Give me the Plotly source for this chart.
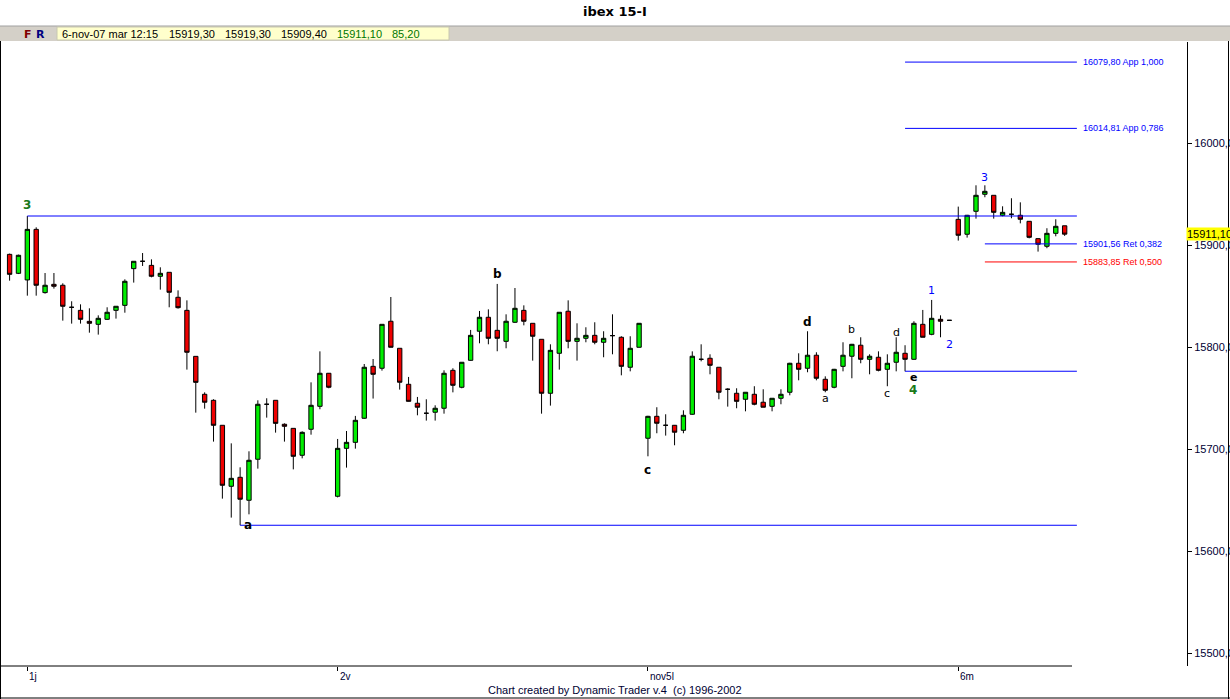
import plotly.graph_objects as go

# ---------------- data ----------------
opens = [15891.3, 15872.7, 15866.2, 15915.8, 15853.8, 15861.9, 15861.0, 15839.4, 15836.4, 15825.6,
         15822.7, 15827.6, 15836.4, 15841.3, 15877.3, 15884.5, 15880.5, 15869.8, 15873.7, 15849.2,
         15836.4, 15791.3, 15754.1, 15748.2, 15723.7, 15663.9, 15672.7, 15650.2, 15690.4, 15744.3,
         15748.2, 15724.7, 15720.7, 15694.3, 15719.8, 15742.3, 15774.7, 15654.1, 15701.1, 15707.0,
         15730.6, 15781.5, 15779.6, 15825.7, 15799.2, 15763.9, 15745.3, 15735.5, 15736.5, 15740.4,
         15777.6, 15761.0, 15787.4, 15815.9, 15829.6, 15816.8, 15806.0, 15824.7, 15836.4, 15823.7,
         15808.0, 15755.1, 15794.3, 15835.5, 15806.0, 15809.0, 15811.9, 15805.1, 15811.6, 15810.0,
         15780.6, 15800.2, 15711.0, 15732.5, 15723.7, 15723.7, 15718.8, 15734.5, 15788.4, 15789.4,
         15780.6, 15759.0, 15755.1, 15749.2, 15754.1, 15746.3, 15742.3, 15750.2, 15756.1, 15784.5,
         15779.6, 15792.4, 15768.8, 15761.0, 15781.5, 15791.4, 15802.2, 15788.4, 15790.4, 15778.6,
         15785.5, 15794.3, 15788.4, 15822.7, 15812.9, 15827.6, 15826.6, 15925.6, 15911.0, 15933.5,
         15950.2, 15949.2, 15929.6, 15930.6, 15929.6, 15923.7, 15906.7, 15899.2, 15911.9, 15919.3]
highs = [15892.0, 15891.0, 15928.9, 15917.8, 15873.0, 15873.0, 15862.9, 15845.3, 15842.3, 15838.4,
         15831.5, 15839.4, 15840.4, 15866.8, 15884.5, 15892.6, 15886.4, 15878.6, 15873.7, 15856.0,
         15846.2, 15791.3, 15756.0, 15749.2, 15723.7, 15706.0, 15682.5, 15698.2, 15748.2, 15750.2,
         15748.2, 15725.6, 15720.7, 15717.8, 15765.8, 15796.2, 15775.0, 15710.3, 15718.1, 15732.9,
         15783.8, 15788.7, 15822.7, 15849.5, 15799.2, 15771.1, 15751.5, 15749.2, 15743.3, 15777.6,
         15779.6, 15785.5, 15817.2, 15835.8, 15837.4, 15862.3, 15832.5, 15858.3, 15841.3, 15823.7,
         15808.0, 15803.1, 15834.5, 15846.2, 15823.7, 15819.8, 15824.7, 15815.9, 15832.5, 15811.0,
         15811.0, 15824.0, 15733.0, 15741.4, 15734.5, 15724.0, 15738.4, 15796.2, 15803.1, 15793.3,
         15780.6, 15760.0, 15760.0, 15756.1, 15762.0, 15759.0, 15750.2, 15759.0, 15785.0, 15794.3,
         15815.9, 15795.3, 15771.7, 15779.0, 15805.1, 15803.5, 15810.0, 15793.3, 15796.2, 15793.3,
         15810.0, 15802.2, 15825.7, 15836.8, 15846.6, 15831.5, 15826.6, 15938.1, 15930.0, 15959.0,
         15959.0, 15949.2, 15938.4, 15946.3, 15942.3, 15924.0, 15907.0, 15916.9, 15925.7, 15919.3]
lows = [15865.5, 15872.0, 15850.8, 15850.8, 15852.8, 15857.7, 15826.3, 15823.4, 15823.4, 15814.5,
        15812.6, 15827.0, 15828.3, 15834.1, 15863.6, 15879.9, 15868.8, 15856.7, 15839.4, 15838.1,
        15778.3, 15736.1, 15740.0, 15707.7, 15651.8, 15633.2, 15625.7, 15636.4, 15681.2, 15731.2,
        15716.5, 15707.7, 15680.5, 15691.3, 15714.5, 15739.4, 15760.0, 15653.0, 15682.2, 15700.8,
        15730.0, 15749.9, 15777.3, 15800.0, 15758.7, 15747.0, 15733.5, 15728.3, 15728.3, 15735.1,
        15756.0, 15760.0, 15787.0, 15804.1, 15803.1, 15796.3, 15799.2, 15824.0, 15821.7, 15787.1,
        15735.1, 15743.0, 15778.3, 15799.2, 15787.1, 15805.1, 15803.1, 15790.4, 15793.3, 15772.7,
        15776.6, 15800.0, 15693.3, 15715.9, 15713.6, 15704.1, 15715.9, 15734.0, 15786.4, 15773.7,
        15749.2, 15742.0, 15740.4, 15737.4, 15743.3, 15741.4, 15737.4, 15744.3, 15753.1, 15767.8,
        15775.7, 15767.8, 15756.1, 15760.0, 15776.6, 15769.8, 15784.5, 15773.7, 15776.6, 15762.0,
        15776.6, 15776.6, 15788.0, 15810.0, 15812.0, 15810.0, 15826.6, 15904.8, 15907.7, 15926.3,
        15947.3, 15926.3, 15928.6, 15926.7, 15921.7, 15907.0, 15894.0, 15897.3, 15909.0, 15909.4]
closes = [15871.7, 15890.4, 15915.8, 15861.0, 15861.0, 15860.0, 15840.4, 15839.4, 15827.6, 15823.7,
          15828.6, 15834.5, 15840.4, 15864.9, 15884.5, 15884.5, 15869.8, 15872.7, 15854.1, 15839.0,
          15795.3, 15765.8, 15746.3, 15723.7, 15664.9, 15671.7, 15651.2, 15689.4, 15744.3, 15744.3,
          15725.6, 15722.7, 15693.3, 15716.8, 15743.3, 15774.7, 15761.0, 15701.1, 15707.0, 15728.6,
          15780.6, 15773.7, 15822.7, 15800.2, 15765.9, 15747.2, 15741.4, 15735.5, 15740.4, 15774.7,
          15762.9, 15785.5, 15811.9, 15829.6, 15809.0, 15809.0, 15825.7, 15838.4, 15825.7, 15811.0,
          15755.1, 15797.2, 15834.5, 15806.0, 15809.0, 15811.9, 15805.1, 15809.0, 15811.6, 15781.5,
          15799.2, 15823.7, 15732.5, 15725.7, 15723.7, 15716.9, 15733.5, 15791.4, 15788.4, 15782.5,
          15756.1, 15759.0, 15747.2, 15756.1, 15744.3, 15741.4, 15750.2, 15754.1, 15784.5, 15778.6,
          15792.4, 15769.8, 15758.0, 15778.6, 15792.4, 15803.1, 15788.4, 15791.4, 15777.6, 15784.5,
          15795.3, 15788.4, 15823.7, 15810.0, 15828.6, 15825.7, 15826.6, 15910.0, 15929.6, 15949.2,
          15953.1, 15932.5, 15932.5, 15930.6, 15925.7, 15908.0, 15901.2, 15911.9, 15918.8, 15911.1]
bar_index = list(range(len(opens)))

day_tick_bars = [2, 37, 72, 107]
day_tick_labels = ["1j", "2v", "nov5l", "6m"]

y_tick_values = [15500, 15600, 15700, 15800, 15900, 16000]
y_tick_labels = ["15500,00", "15600,00", "15700,00", "15800,00", "15900,00", "16000,00"]

# horizontal reference lines
ref_line_starts = [2, 26, 101]
ref_line_levels = [15928.9, 15625.7, 15776.7]

fib_levels = [16079.80, 16014.81, 15901.56, 15883.85]
fib_labels = ["16079,80 App 1,000", "16014,81 App 0,786", "15901,56 Ret 0,382", "15883,85 Ret 0,500"]
fib_starts = [101, 101, 110, 110]
fib_colors = ["#0000ff", "#0000ff", "#0000ff", "#ff0000"]
line_end_bar = 120.38

# wave labels
wave_bars = [2, 26.9, 55, 72, 90, 92, 95, 99, 100, 101.9, 101.85, 104, 106, 110]
wave_prices = [15939.7, 15625.7, 15872.0, 15680.0, 15825.0, 15749.5, 15817.8, 15755.0, 15814.9,
               15771.0, 15758.0, 15855.7, 15803.4, 15966.5]
wave_texts = ["3", "a", "b", "c", "d", "a", "b", "c", "d", "e", "4", "1", "2", "3"]
wave_colors = ["#1a7a1a", "black", "black", "black", "black", "black", "black", "black", "black",
               "black", "#1a7a1a", "#0000ff", "#0000ff", "#0000ff"]
wave_bold = [True, True, True, True, True, False, False, False, False, True, True, False, False, False]
wave_sizes = [12, 12, 12, 12, 12, 11, 11, 11, 11, 11, 12, 11, 11, 11]

info_texts = ["6-nov-07 mar 12:15", "15919,30", "15919,30", "15909,40", "15911,10", "85,20"]
info_x_px = [60, 167, 223, 279, 335, 390]
info_colors = ["black", "black", "black", "black", "#007700", "#007700"]

last_price = 15911.1

# ---------------- layout geometry (pixels) ----------------
W, H = 1230, 699
PL, PR, PT, PB = 1, 1187, 42, 666


def px(xp):
    return (xp - PL) / (PR - PL)


def py(yp):
    return (PB - yp) / (PB - PT)


fig = go.Figure()
fig.add_trace(go.Candlestick(
    x=bar_index, open=opens, high=highs, low=lows, close=closes,
    increasing=dict(fillcolor="#00ee00", line=dict(color="black", width=1)),
    decreasing=dict(fillcolor="#ee0000", line=dict(color="black", width=1)),
    whiskerwidth=0, showlegend=False, hoverinfo="skip",
))

shapes = []
annotations = []

for xs, lv in zip(ref_line_starts, ref_line_levels):
    shapes.append(dict(type="line", xref="x", yref="y", x0=xs, x1=line_end_bar, y0=lv, y1=lv,
                       line=dict(color="#0000ff", width=1)))

for lv, lab, xs, col in zip(fib_levels, fib_labels, fib_starts, fib_colors):
    shapes.append(dict(type="line", xref="x", yref="y", x0=xs, x1=line_end_bar, y0=lv, y1=lv,
                       line=dict(color=col, width=1)))
    annotations.append(dict(x=line_end_bar + 0.5, y=lv, xref="x", yref="y", text=lab,
                            showarrow=False, xanchor="left", yanchor="middle",
                            font=dict(family="Liberation Sans", size=9, color=col)))

for xb, pv, t, c, b, s in zip(wave_bars, wave_prices, wave_texts, wave_colors, wave_bold, wave_sizes):
    txt = "<b>%s</b>" % t if b else t
    annotations.append(dict(x=xb, y=pv, xref="x", yref="y", text=txt, showarrow=False,
                            xanchor="center", yanchor="middle",
                            font=dict(family="DejaVu Sans", size=s, color=c)))

# day labels on the time axis
for xb, lab in zip(day_tick_bars, day_tick_labels):
    annotations.append(dict(x=xb, y=py(676), xref="x", yref="paper", text=lab, showarrow=False,
                            xanchor="left", yanchor="middle", xshift=0,
                            font=dict(family="Liberation Sans", size=10, color="#000033")))

# title
annotations.append(dict(x=px(615), y=py(12), xref="paper", yref="paper", text="<b>ibex 15-I</b>",
                        showarrow=False, xanchor="center", yanchor="middle",
                        font=dict(family="DejaVu Sans", size=13, color="black")))
# credit
annotations.append(dict(x=px(615), y=py(690), xref="paper", yref="paper",
                        text="Chart created by Dynamic Trader v.4  (c) 1996-2002", showarrow=False,
                        xanchor="center", yanchor="middle",
                        font=dict(family="Liberation Sans", size=11, color="#000033")))

# info bar
shapes.append(dict(type="rect", xref="paper", yref="paper", x0=px(0), x1=px(W), y0=py(41), y1=py(26),
                   fillcolor="#d4d0c8", line=dict(width=0), layer="below"))
shapes.append(dict(type="line", xref="paper", yref="paper", x0=px(0), x1=px(W), y0=py(26), y1=py(26),
                   line=dict(color="#a0a0a0", width=1)))
shapes.append(dict(type="rect", xref="paper", yref="paper", x0=px(57), x1=px(449), y0=py(40), y1=py(27),
                   fillcolor="#ffffcc", line=dict(color="#c8c8b0", width=1)))
annotations.append(dict(x=px(22), y=py(34), xref="paper", yref="paper", text="<b>F</b>", showarrow=False,
                        xanchor="left", yanchor="middle",
                        font=dict(family="DejaVu Sans", size=11, color="#800000")))
annotations.append(dict(x=px(34), y=py(34), xref="paper", yref="paper", text="<b>R</b>", showarrow=False,
                        xanchor="left", yanchor="middle",
                        font=dict(family="DejaVu Sans", size=11, color="#000080")))
for t, xp_, c in zip(info_texts, info_x_px, info_colors):
    annotations.append(dict(x=px(xp_), y=py(34), xref="paper", yref="paper", text=t, showarrow=False,
                            xanchor="left", yanchor="middle",
                            font=dict(family="Liberation Sans", size=11, color=c)))

# last price marker on the price axis
annotations.append(dict(x=px(1186), y=last_price, xref="paper", yref="y", text="15911,10",
                        showarrow=False, xanchor="left", yanchor="middle", bgcolor="#ffff00",
                        borderpad=0, xshift=0,
                        font=dict(family="Liberation Sans", size=11, color="black")))

# frame / axis lines
shapes.append(dict(type="line", xref="paper", yref="paper", x0=px(0), x1=px(1072), y0=py(666), y1=py(666),
                   line=dict(color="black", width=1)))
shapes.append(dict(type="line", xref="paper", yref="paper", x0=px(0.5), x1=px(0.5), y0=py(41), y1=py(699),
                   line=dict(color="black", width=1)))
shapes.append(dict(type="line", xref="paper", yref="paper", x0=px(1228.5), x1=px(1228.5), y0=py(41), y1=py(699),
                   line=dict(color="black", width=1)))
shapes.append(dict(type="line", xref="paper", yref="paper", x0=px(0), x1=px(W), y0=py(698), y1=py(698),
                   line=dict(color="black", width=1)))

fig.update_layout(
    width=W, height=H,
    margin=dict(l=PL, r=W - PR, t=PT, b=H - PB, pad=0),
    paper_bgcolor="white", plot_bgcolor="white",
    showlegend=False,
    shapes=shapes, annotations=annotations,
    xaxis=dict(range=[-0.97, 132.8], showgrid=False, zeroline=False, showline=False,
               tickvals=day_tick_bars, ticktext=[""] * 4, ticks="outside", ticklen=4,
               tickcolor="black", showticklabels=False, rangeslider=dict(visible=False),
               fixedrange=True, automargin=False),
    yaxis=dict(range=[15487.7, 16099.5], side="right", showgrid=False, zeroline=False,
               showline=True, linecolor="black", linewidth=1,
               tickvals=y_tick_values, ticktext=y_tick_labels, ticks="outside", ticklen=4,
               tickcolor="black", tickfont=dict(family="Liberation Sans", size=11, color="#000033"),
               automargin=False, fixedrange=True),
)

fig.write_html("out.html", config={"displayModeBar": False},
               post_script="document.body.style.margin='0';document.body.style.overflow='hidden';")
